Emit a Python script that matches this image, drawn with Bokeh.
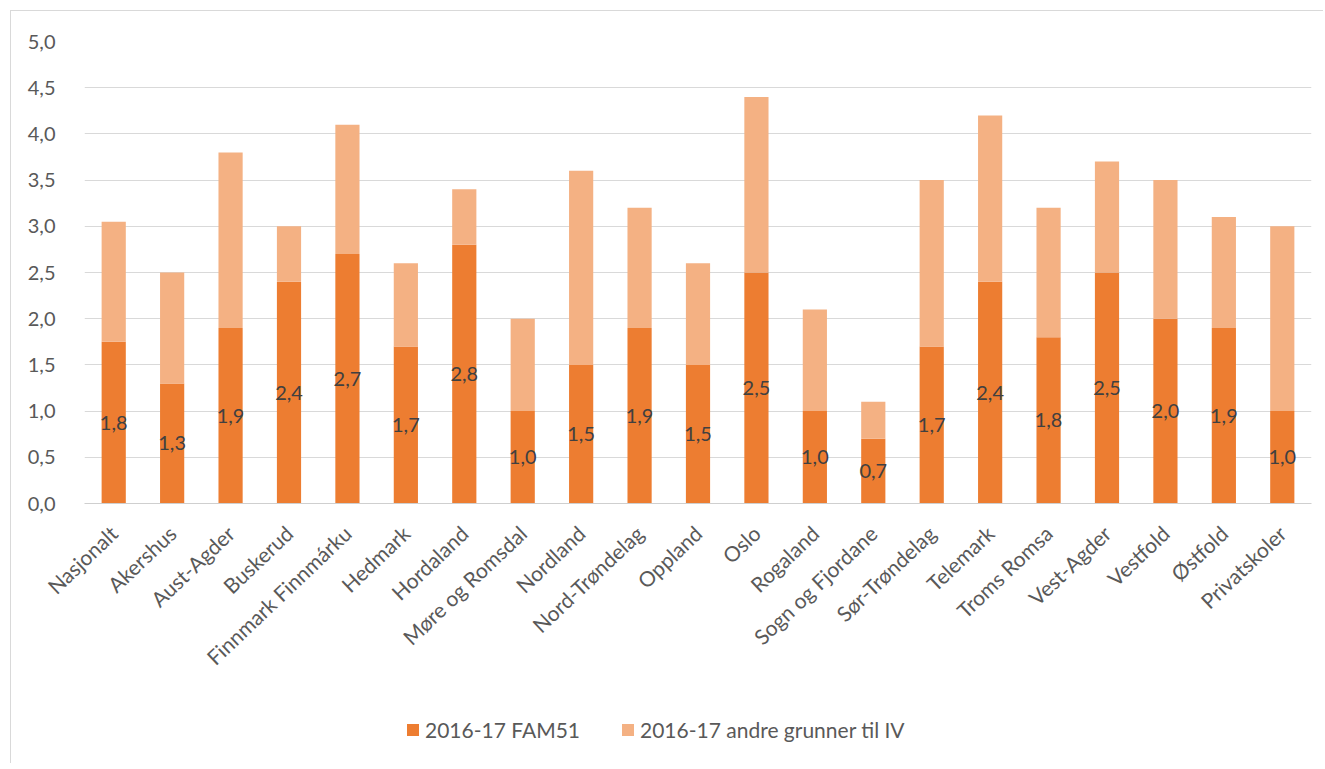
from bokeh.plotting import figure
from bokeh.models import (ColumnDataSource, FactorRange, FixedTicker, CustomJSTickFormatter,
                          Legend, LegendItem)
from bokeh.layouts import column
from bokeh.core.properties import value
from bokeh.embed import file_html
from bokeh.resources import INLINE

categories = ["Nasjonalt", "Akershus", "Aust-Agder", "Buskerud", "Finnmark Finnmárku",
              "Hedmark", "Hordaland", "Møre og Romsdal", "Nordland", "Nord-Trøndelag",
              "Oppland", "Oslo", "Rogaland", "Sogn og Fjordane", "Sør-Trøndelag",
              "Telemark", "Troms Romsa", "Vest-Agder", "Vestfold", "Østfold", "Privatskoler"]
fam51 = [1.75, 1.3, 1.9, 2.4, 2.7, 1.7, 2.8, 1.0, 1.5, 1.9, 1.5, 2.5, 1.0, 0.7, 1.7,
         2.4, 1.8, 2.5, 2.0, 1.9, 1.0]
totals = [3.05, 2.5, 3.8, 3.0, 4.1, 2.6, 3.4, 2.0, 3.6, 3.2, 2.6, 4.4, 2.1, 1.1, 3.5,
          4.2, 3.2, 3.7, 3.5, 3.1, 3.0]
fam51_labels = ["1,8", "1,3", "1,9", "2,4", "2,7", "1,7", "2,8", "1,0", "1,5", "1,9", "1,5",
                "2,5", "1,0", "0,7", "1,7", "2,4", "1,8", "2,5", "2,0", "1,9", "1,0"]
series_names = ["2016-17 FAM51", "2016-17 andre grunner til IV"]
y_ticks = [0.0, 0.5, 1.0, 1.5, 2.0, 2.5, 3.0, 3.5, 4.0, 4.5, 5.0]
y_tick_labels = ["0,0", "0,5", "1,0", "1,5", "2,0", "2,5", "3,0", "3,5", "4,0", "4,5", "5,0"]

other = [t - f for t, f in zip(totals, fam51)]
src = ColumnDataSource(dict(cat=categories, fam51=fam51, other=other,
                            mid=[f / 2 for f in fam51], lab=fam51_labels))

FONT = "Lato"
DARK = "#ED7D31"
LIGHT = "#F4B183"
GRAY = "#595959"

p = figure(x_range=FactorRange(*categories, range_padding=0), y_range=(0, 5),
           width=1312, height=692, output_backend="svg", toolbar_location=None,
           min_border_left=73, min_border_right=12, min_border_top=30, min_border_bottom=200)

r = p.vbar_stack(["fam51", "other"], x="cat", width=0.414, color=[DARK, LIGHT],
                 line_color=None, source=src)

p.text(x="cat", y="mid", text="lab", source=src, text_align="center",
       text_baseline="middle", text_font=value(FONT), text_font_size="20px",
       text_color="#404040")

p.outline_line_color = None
p.xgrid.grid_line_color = None
p.ygrid.grid_line_color = "#d9d9d9"
p.ygrid.grid_line_width = 1

p.yaxis.ticker = FixedTicker(ticks=y_ticks)
p.yaxis.formatter = CustomJSTickFormatter(args=dict(tvals=y_ticks, tlabels=y_tick_labels), code="""
    for (let i = 0; i < tvals.length; i++) { if (Math.abs(tvals[i] - tick) < 1e-9) return tlabels[i]; }
    return String(tick);
""")
p.yaxis.axis_line_color = None
p.yaxis.major_tick_line_color = None
p.yaxis.minor_tick_line_color = None
p.yaxis.major_label_standoff = 23
p.yaxis.major_label_text_font = FONT
p.yaxis.major_label_text_font_size = "20px"
p.yaxis.major_label_text_color = GRAY

p.xaxis.axis_line_color = "#cfcfcf"
p.xaxis.major_tick_line_color = None
p.xaxis.minor_tick_line_color = None
p.xaxis.major_label_orientation = 0.76
p.xaxis.major_label_standoff = 20
p.xaxis.major_label_text_font = FONT
p.xaxis.major_label_text_font_size = "21px"
p.xaxis.major_label_text_color = GRAY

# legend strip below the chart (zero-height bars only serve as legend glyph sources)
p2 = figure(x_range=p.x_range, y_range=(0, 1), width=1312, height=60,
            output_backend="svg", toolbar_location=None, min_border=0)
p2.axis.visible = False
p2.grid.grid_line_color = None
p2.outline_line_color = None
dummy = ColumnDataSource(dict(cat=categories, top=[0] * len(categories)))
g1 = p2.vbar(x="cat", top="top", width=0.4, color=DARK, line_color=None, source=dummy)
g2 = p2.vbar(x="cat", top="top", width=0.4, color=LIGHT, line_color=None, source=dummy)
legend = Legend(items=[LegendItem(label=series_names[0], renderers=[g1]),
                       LegendItem(label=series_names[1], renderers=[g2])],
                orientation="horizontal", location=(321, 21),
                label_text_font=FONT, label_text_font_size="21px", label_text_color=GRAY,
                glyph_width=15, glyph_height=15, spacing=40, label_standoff=5,
                border_line_color=None, background_fill_alpha=0, padding=3, margin=0)
p2.add_layout(legend)

layout = column(p, p2, spacing=0,
                styles={"margin-left": "10px", "margin-top": "10px",
                        "border-left": "1px solid #d9d9d9", "border-top": "1px solid #d9d9d9"})

open("out.html", "w").write(file_html(layout, INLINE))
